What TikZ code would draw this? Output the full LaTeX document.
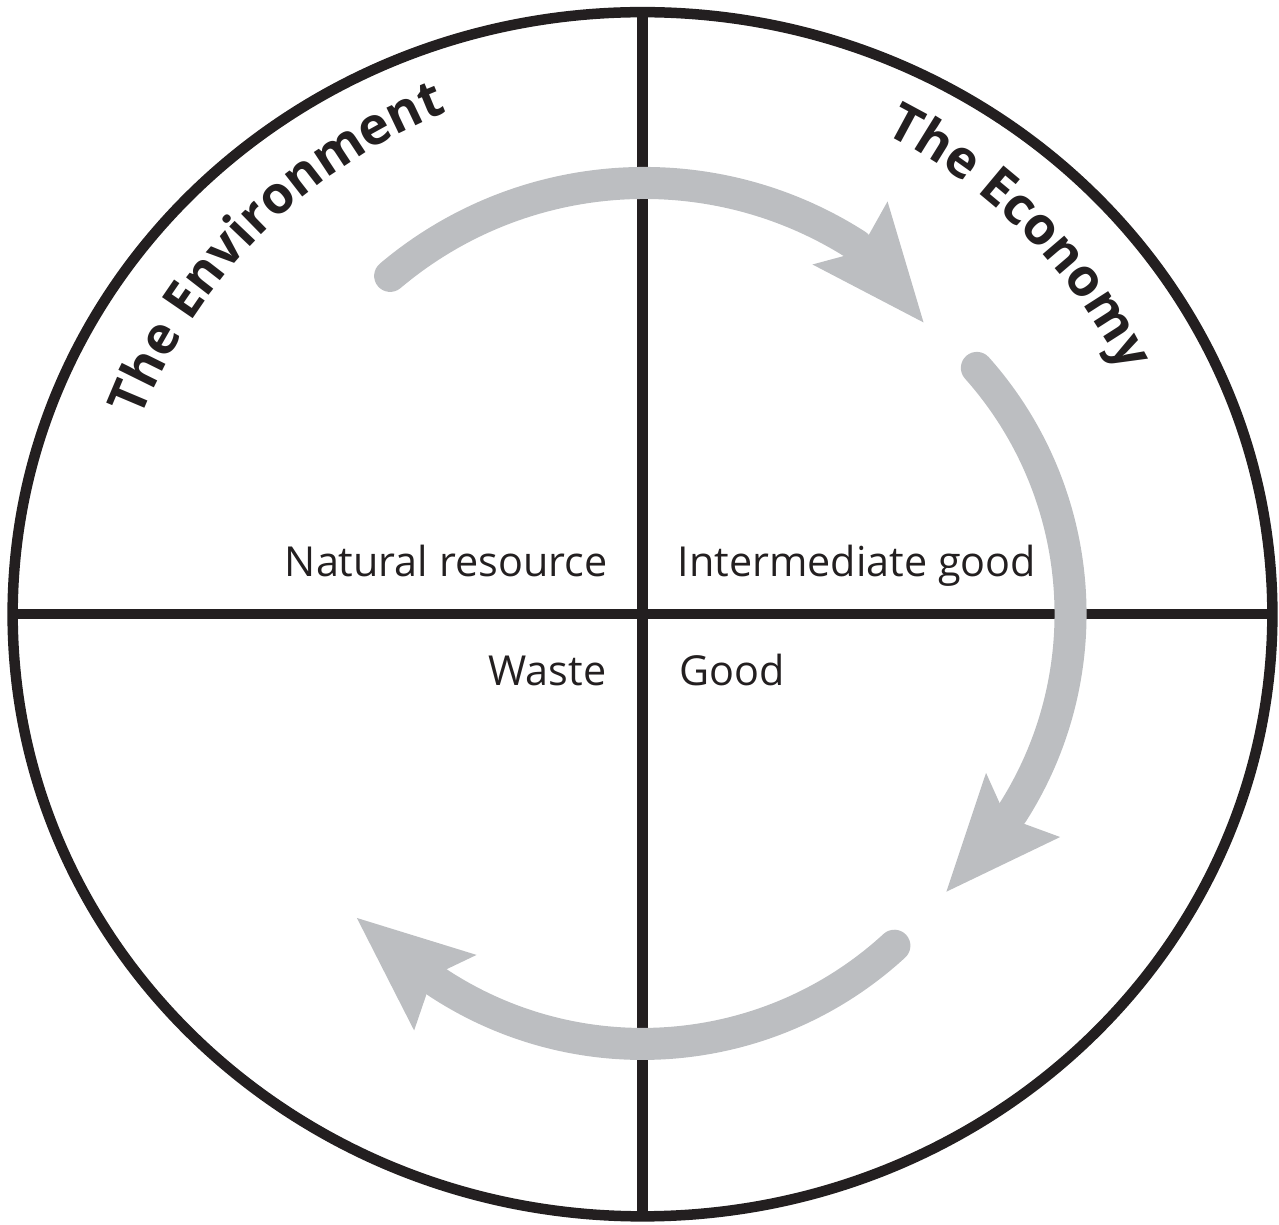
\documentclass[tikz,border=0pt]{standalone}
\usepackage{fontspec}
\setmainfont{Open Sans}
\usetikzlibrary{decorations.text, shapes.geometric}
\definecolor{inkblack}{RGB}{35,31,32}
\definecolor{arrowgray}{RGB}{188,190,193}
\newcommand{\labelfont}{\fontsize{11.75pt}{13pt}\selectfont}
\newcommand{\titlefont}{\fontsize{14.8pt}{16pt}\selectfont\bfseries}
\begin{document}
\begin{tikzpicture}[x=0.01cm, y=0.01cm,
  frame/.style={draw=inkblack, line width=0.105cm},
  flow/.style={draw=arrowgray, line width=0.32cm, line cap=round},
  flowhead/.style={fill=arrowgray},
  lbl/.style={text=inkblack, font=\labelfont, inner sep=0pt},
  titlepath/.style={decorate, decoration={text along path, text align=center, text color=inkblack, text={|\titlefont|#1}}}
]
\useasboundingbox (0,0) rectangle (1279,1224);
\node[frame, ellipse, minimum width=12.59cm, minimum height=12.035cm, inner sep=0pt, outer sep=0pt] (world) at (642.5,609.75) {};
\draw[frame] (world.west) -- (world.east);
\draw[frame] (world.north) -- (world.south);

% flow arcs
\coordinate (ctop) at (644,647.7);
\coordinate (cright) at (701,610.3);
\coordinate (cbottom) at (642.6,552.1);

\draw[flow] (ctop) ++(130.2:393.3) arc[start angle=130.2, end angle=57.3, radius=3.933cm] coordinate (topneck);
\fill[flowhead, shift={(topneck)}, rotate=-49.1] (102,0) -- (-13,52) -- (0,16) -- (0,-16) -- (-14.5,-46) -- cycle;

\draw[flow] (cright) ++(41.7:369.5) arc[start angle=41.7, end angle=-32.7, radius=3.695cm] coordinate (rightneck);
\fill[flowhead, shift={(rightneck)}, rotate=-130] (102,0) -- (-13,52) -- (0,16) -- (0,-16) -- (-14.5,-46) -- cycle;

\draw[flow] (cbottom) ++(-47.4:372) arc[start angle=-47.4, end angle=-123.6, radius=3.72cm] coordinate (bottomneck);
\fill[flowhead, shift={(bottomneck)}, rotate=141.3] (102,0) -- (-13,52) -- (0,16) -- (0,-16) -- (-14.5,-46) -- cycle;

% labels
\node[lbl, anchor=base east] (natres) at (608,647) {Natural resource};
\node[lbl, anchor=base west] (intgood) at (677,647) {Intermediate good};
\node[lbl, anchor=base east] (waste) at (607,538) {Waste};
\node[lbl, anchor=base west] (good) at (679,538) {Good};

% titles
\path[titlepath={The Environment}] (world.center) ++(178:538) arc[start angle=178, end angle=92, radius=5.38cm];
\path[titlepath={The Economy}] (world.center) ++(88:538) arc[start angle=88, end angle=2, radius=5.38cm];
\end{tikzpicture}
\end{document}
